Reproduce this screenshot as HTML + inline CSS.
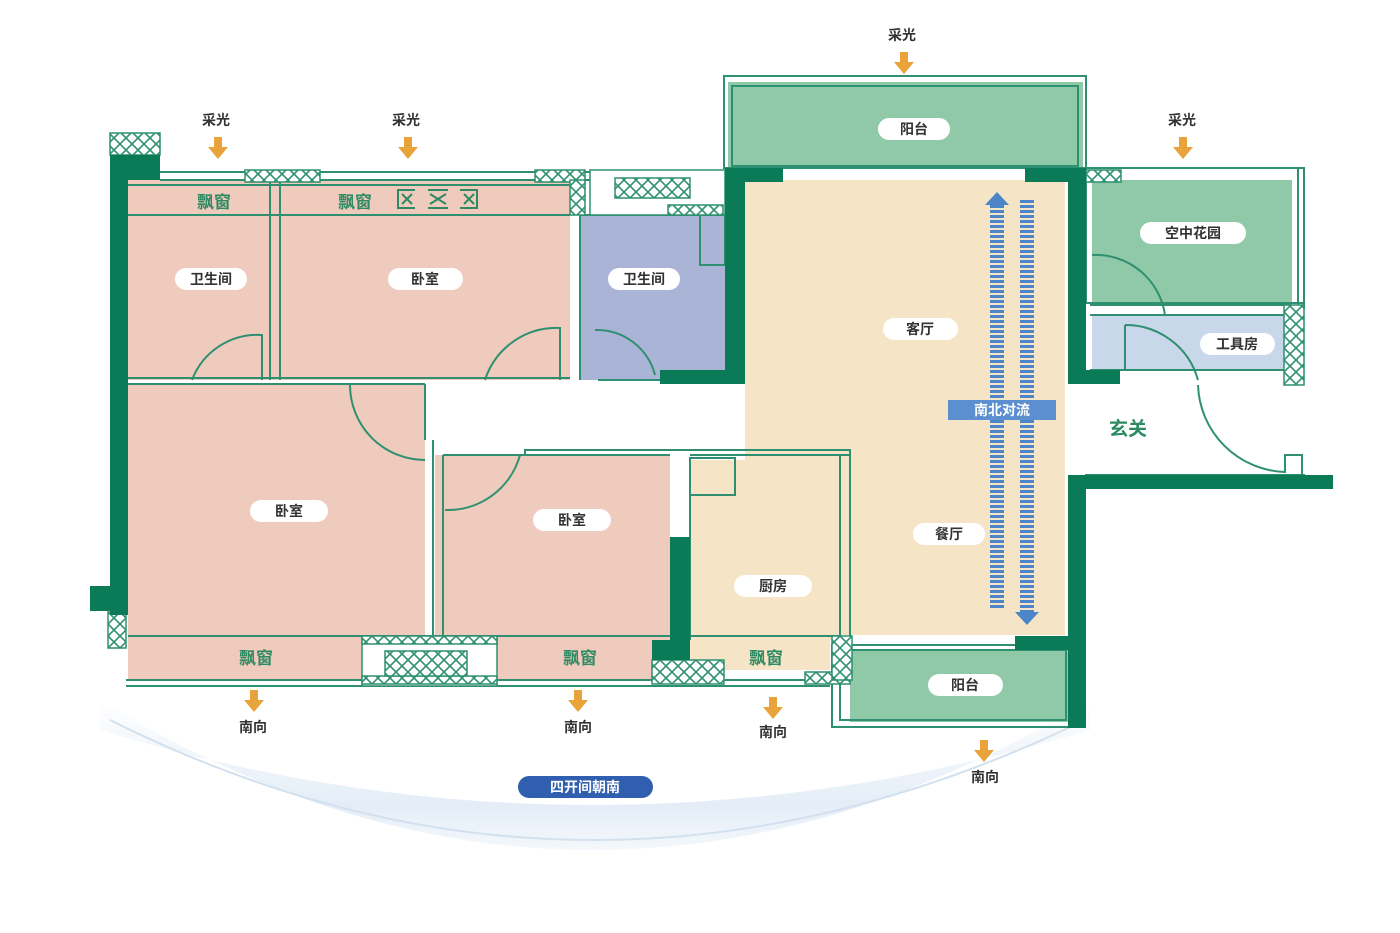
<!DOCTYPE html>
<html><head><meta charset="utf-8"><style>
html,body{margin:0;padding:0;background:#fff;}
svg{display:block}
text{font-family:"Liberation Sans","Noto Sans CJK SC",sans-serif;font-weight:bold;}
</style></head><body>
<svg width="1400" height="933" viewBox="0 0 1400 933" xmlns="http://www.w3.org/2000/svg">
<defs>
<linearGradient id="arcg" x1="0" y1="0" x2="0" y2="1">
<stop offset="0" stop-color="#fff"/>
<stop offset="0.7" stop-color="#e4edf7"/>
<stop offset="1" stop-color="#f4f8fc"/>
</linearGradient>
<pattern id="hx" width="12" height="12" patternUnits="userSpaceOnUse">
<rect width="12" height="12" fill="#fff"/>
<path d="M0 0L12 12M12 0L0 12" stroke="#2e9070" stroke-width="1.6"/>
</pattern>
</defs>
<!-- bottom arc -->
<path d="M100 700 Q590 1000 1090 700 L1090 730 Q590 880 100 730Z" fill="url(#arcg)"/>
<path d="M110 720 Q590 960 1085 720" fill="none" stroke="#d3e0ee" stroke-width="2"/>
<!-- rooms -->
<rect x="128" y="180" width="442" height="200" fill="#efcbbd"/>
<rect x="128" y="385" width="297" height="255" fill="#efcbbd"/>
<rect x="435" y="455" width="235" height="185" fill="#efcbbd"/>
<rect x="128" y="638" width="542" height="42" fill="#efcbbd"/>
<rect x="580" y="215" width="145" height="165" fill="#aab4d6"/>
<rect x="745" y="180" width="320" height="455" fill="#f6e4c6"/>
<rect x="690" y="460" width="150" height="180" fill="#f6e4c6"/>
<rect x="690" y="640" width="140" height="30" fill="#f6e4c6"/>
<rect x="728" y="82" width="355" height="86" fill="#8fc9a8"/>
<rect x="1092" y="180" width="200" height="125" fill="#8fc9a8"/>
<rect x="1092" y="315" width="192" height="55" fill="#c9d7ea"/>
<rect x="850" y="650" width="218" height="72" fill="#8fc9a8"/>
<!-- thin outlines -->
<g fill="none" stroke="#2e9070" stroke-width="2">
<rect x="724" y="76" width="362" height="92"/><rect x="732" y="86" width="346" height="80"/>
<rect x="1086" y="168" width="218" height="135"/><rect x="1298" y="168" width="6" height="140"/>
<rect x="832" y="645" width="240" height="82"/><rect x="840" y="650" width="226" height="70"/>
<path d="M128 185H570M128 215H570M270 180V380M280 180V380M128 378H570M128 384H425M425 384V440M433 440V640M443 455V640M443 455H670M525 455V450H850V640M690 460V640M690 455H850M840 455V640M128 636H840M126 680H830M126 686H830"/>
<path d="M580 215H725M580 215V380M598 380H660M1090 305H1290M1090 315H1290M1090 370H1285M1085 475H1305"/>
<path d="M160 172H720M160 180H720"/>
</g>
<!-- window symbol in bay -->
<g fill="none" stroke="#2e8a62" stroke-width="2">
<path d="M415 190H398V208H415M402 194L412 204M402 204L412 194"/>
<path d="M428 190H448M428 208H448M430 194L446 204M430 204L446 194"/>
<path d="M460 190H477V208H460M464 194L474 204M464 204L474 194"/>
</g>
<!-- doors -->
<g fill="none" stroke="#2e9070" stroke-width="2">
<path d="M192 380A70 70 0 0 1 262 335V380"/>
<path d="M485 380A75 75 0 0 1 560 328V380"/>
<path d="M595 330A60 60 0 0 1 655 375"/>
<path d="M350 385A75 75 0 0 0 425 460"/>
<path d="M445 510A75 75 0 0 0 520 455"/>
<path d="M1092 255A70 70 0 0 1 1165 315"/>
<path d="M1125 325V370M1125 325A75 75 0 0 1 1198 380"/>
<path d="M1198 385A90 90 0 0 0 1285 472V455H1302V475"/>
<rect x="690" y="458" width="45" height="37"/>
<rect x="700" y="215" width="25" height="50"/>
</g>
<!-- hatched walls -->
<g stroke="#2e9070" stroke-width="1.5">
<rect x="110" y="133" width="50" height="22" fill="url(#hx)"/>
<rect x="245" y="170" width="75" height="12" fill="url(#hx)"/>
<rect x="535" y="170" width="50" height="12" fill="url(#hx)"/>
<rect x="570" y="180" width="15" height="35" fill="url(#hx)"/>
<rect x="590" y="170" width="135" height="45" fill="#fff"/>
<rect x="615" y="178" width="75" height="20" fill="url(#hx)"/>
<rect x="668" y="205" width="55" height="10" fill="url(#hx)"/>
<rect x="1086" y="170" width="35" height="12" fill="url(#hx)"/>
<rect x="1284" y="305" width="20" height="80" fill="url(#hx)"/>
<rect x="108" y="612" width="18" height="36" fill="url(#hx)"/>
<rect x="362" y="636" width="135" height="50" fill="#fff"/>
<rect x="362" y="636" width="135" height="8" fill="url(#hx)"/>
<rect x="362" y="676" width="135" height="8" fill="url(#hx)"/>
<rect x="385" y="651" width="82" height="25" fill="url(#hx)"/>
<rect x="652" y="660" width="72" height="24" fill="url(#hx)"/>
<rect x="805" y="672" width="45" height="12" fill="url(#hx)"/>
<rect x="832" y="636" width="20" height="44" fill="url(#hx)"/>
</g>
<!-- thick walls -->
<g fill="#0b7a57">
<rect x="110" y="155" width="18" height="460"/>
<rect x="110" y="155" width="50" height="25"/>
<rect x="90" y="586" width="20" height="25"/>
<rect x="725" y="168" width="20" height="215"/>
<rect x="725" y="168" width="58" height="14"/>
<rect x="1025" y="168" width="60" height="14"/>
<rect x="1068" y="168" width="18" height="215"/>
<rect x="1068" y="370" width="52" height="14"/>
<rect x="660" y="370" width="85" height="14"/>
<rect x="1068" y="475" width="18" height="253"/>
<rect x="1068" y="475" width="265" height="14"/>
<rect x="670" y="537" width="20" height="120"/>
<rect x="652" y="640" width="38" height="20"/>
<rect x="1015" y="636" width="53" height="14"/>
</g>
<!-- arrow flow -->
<g stroke="#4d86c8" stroke-width="14" stroke-dasharray="3 2">
<line x1="997" y1="205" x2="997" y2="610"/><line x1="1027" y1="200" x2="1027" y2="612"/>
</g>
<path d="M985 205L997 192L1009 205Z" fill="#4d86c8"/>
<path d="M1015 612L1027 625L1039 612Z" fill="#4d86c8"/>
<rect x="948" y="400" width="108" height="20" fill="#5b8fcf"/>
<text x="1002" y="415" font-size="14" fill="#fff" text-anchor="middle">南北对流</text>
<!-- orange arrows -->
<g fill="#e8a33a">
<path id="oa" d="M214 137h8v10h6l-10 12l-10-12h6z"/>
<use href="#oa" x="190"/><use href="#oa" x="686" y="-85"/><use href="#oa" x="965"/>
<use href="#oa" x="36" y="553"/><use href="#oa" x="360" y="553"/><use href="#oa" x="555" y="560"/><use href="#oa" x="766" y="603"/>
</g>
<g font-size="14" fill="#333" text-anchor="middle">
<text x="216" y="125">采光</text><text x="406" y="125">采光</text><text x="902" y="40">采光</text><text x="1182" y="125">采光</text>
<text x="253" y="732">南向</text><text x="578" y="732">南向</text><text x="773" y="737">南向</text><text x="985" y="782">南向</text>
</g>
<g font-size="17" fill="#2e8a62" text-anchor="middle">
<text x="214" y="208">飘窗</text><text x="355" y="208">飘窗</text>
<text x="256" y="664">飘窗</text><text x="580" y="664">飘窗</text><text x="766" y="664">飘窗</text>
<text x="1128" y="435" font-size="19">玄关</text>
</g>
<!-- pills -->
<g font-size="14" fill="#333" text-anchor="middle">
<g><rect x="175" y="268" width="72" height="22" rx="11" fill="#fff"/><text x="211" y="284">卫生间</text></g>
<g><rect x="388" y="268" width="75" height="22" rx="11" fill="#fff"/><text x="425" y="284">卧室</text></g>
<g><rect x="608" y="268" width="72" height="22" rx="11" fill="#fff"/><text x="644" y="284">卫生间</text></g>
<g><rect x="878" y="118" width="72" height="22" rx="11" fill="#fff"/><text x="914" y="134">阳台</text></g>
<g><rect x="883" y="318" width="75" height="22" rx="11" fill="#fff"/><text x="920" y="334">客厅</text></g>
<g><rect x="1140" y="222" width="106" height="22" rx="11" fill="#fff"/><text x="1193" y="238">空中花园</text></g>
<g><rect x="1200" y="333" width="75" height="22" rx="11" fill="#fff"/><text x="1237" y="349">工具房</text></g>
<g><rect x="250" y="500" width="78" height="22" rx="11" fill="#fff"/><text x="289" y="516">卧室</text></g>
<g><rect x="533" y="509" width="78" height="22" rx="11" fill="#fff"/><text x="572" y="525">卧室</text></g>
<g><rect x="734" y="575" width="78" height="22" rx="11" fill="#fff"/><text x="773" y="591">厨房</text></g>
<g><rect x="913" y="523" width="72" height="22" rx="11" fill="#fff"/><text x="949" y="539">餐厅</text></g>
<g><rect x="928" y="674" width="75" height="22" rx="11" fill="#fff"/><text x="965" y="690">阳台</text></g>
</g>
<rect x="518" y="776" width="135" height="22" rx="11" fill="#2f5fae"/>
<text x="585" y="792" font-size="14" fill="#fff" text-anchor="middle">四开间朝南</text>
</svg>
</body></html>
